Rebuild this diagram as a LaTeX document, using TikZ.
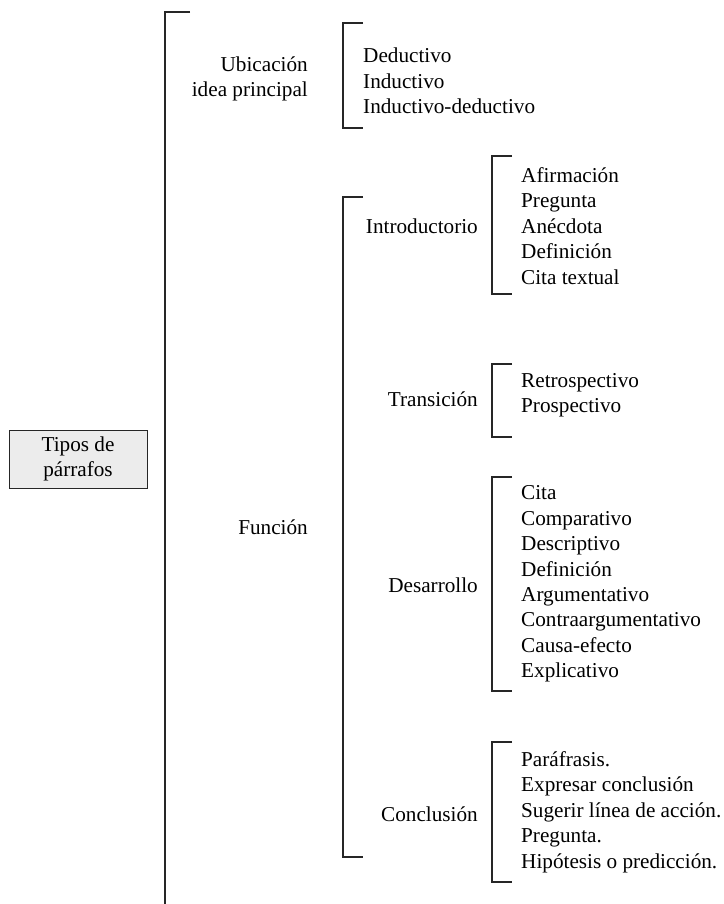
\documentclass[tikz,border=0pt]{standalone}
\usepackage{fontspec}
\setmainfont{Liberation Serif}

\begin{document}
\begin{tikzpicture}[
  x=1pt,y=-1pt,
  txt/.style={inner sep=0pt,font=\fontsize{21.2}{25.4}\selectfont},
  lbl/.style={txt,anchor=east,align=right},
  items/.style={txt,anchor=west,align=left},
  root/.style={draw=black!85,fill=gray!15,line width=1pt,minimum width=138pt,
    minimum height=58pt,align=center,font=\fontsize{21.2}{25.4}\selectfont},
  brk/.style={draw=black!85,line width=1.3pt}
]
  \useasboundingbox (0,0) rectangle (723,904);

  \node[root] (tipos) at (78,459) {Tipos de\\párrafos};

  % first level
  \draw[brk] (190,12) -- (165,12) -- (165,904);
  \node[lbl] (ubic) at (308,79) {Ubicación\\idea principal};
  \node[lbl] (func) at (308,527) {Función};

  % location of the main idea
  \draw[brk] (363,23) -- (343,23) -- (343,128) -- (363,128);
  \node[items] (ubicl) at (363,81) {Deductivo\\Inductivo\\Inductivo-deductivo};

  % function
  \draw[brk] (363,197) -- (343,197) -- (343,857) -- (363,857);
  \node[lbl] (intro) at (478,226) {Introductorio};
  \node[lbl] (trans) at (478,399) {Transición};
  \node[lbl] (desa) at (478,585) {Desarrollo};
  \node[lbl] (concl) at (478,814) {Conclusión};

  \draw[brk] (512,156) -- (492,156) -- (492,294) -- (512,294);
  \node[items] (introl) at (521,226)
    {Afirmación\\Pregunta\\Anécdota\\Definición\\Cita textual};

  \draw[brk] (512,364) -- (492,364) -- (492,437) -- (512,437);
  \node[items] (transl) at (521,395) {Retrospectivo\\Prospectivo};

  \draw[brk] (512,477) -- (492,477) -- (492,691) -- (512,691);
  \node[items] (desal) at (521,584)
    {Cita\\Comparativo\\Descriptivo\\Definición\\Argumentativo\\Contraargumentativo\\Causa-efecto\\Explicativo};

  \draw[brk] (512,742) -- (492,742) -- (492,882) -- (512,882);
  \node[items] (concll) at (521,812)
    {Paráfrasis.\\Expresar conclusión\\Sugerir línea de acción.\\Pregunta.\\Hipótesis o predicción.};
\end{tikzpicture}
\end{document}
